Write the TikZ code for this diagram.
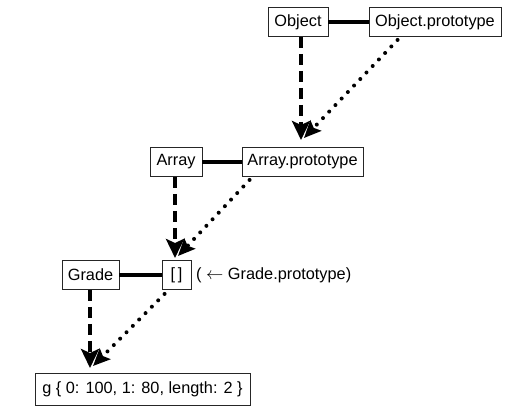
\documentclass[tikz,border=0pt]{standalone}
\usepackage{fontspec}
\setmainfont{Liberation Sans}
\usetikzlibrary{arrows.meta}
\begin{document}
\begin{tikzpicture}[x=1pt,y=-1pt,
  lbl/.style={font=\fontsize{16.3}{19}\selectfont},
  box/.style={lbl, draw=black!85, line width=0.9pt, minimum height=29pt, inner sep=0pt},
  link/.style={line width=3.2pt},
  inherit/.style={line width=3.8pt, dash pattern=on 11pt off 6pt,
    -{Stealth[length=19pt,width=18pt,inset=4pt]}},
  protolink/.style={line width=4pt, line cap=round, dash pattern=on 0pt off 9pt,
    -{Stealth[length=17pt,width=15pt,inset=3pt,line cap=butt]}}]
\useasboundingbox (0,0) rectangle (526,417);

% constructors and their prototypes
\node[box, minimum width=60pt]  (obj)   at (298,22)    {Object};
\node[box, minimum width=132pt] (objp)  at (435,22)    {Object.prototype};
\node[box, minimum width=52pt]  (arr)   at (176,162)   {Array};
\node[box, minimum width=121pt] (arrp)  at (302.5,162) {Array.prototype};
\node[box, minimum width=57pt]  (grade) at (90.5,275)  {Grade};
\node[box, minimum width=29pt]  (proto) at (176.5,275) {[\,]};
\node[lbl, anchor=west, inner sep=0pt] (note) at (196,275) {( $\leftarrow$ Grade.prototype)};
\node[box, minimum width=215pt, minimum height=32pt] (g) at (142.5,389)
  {g \{ 0: 100, 1: 80, length: 2 \}};

% constructor -- prototype links
\draw[link] (obj) -- (objp);
\draw[link] (arr) -- (arrp);
\draw[link] (grade) -- (proto);

% arrow tips
\coordinate (t1) at (301,140);
\coordinate (t2) at (175,258);
\coordinate (t3) at (90,368);

% inheritance arrows
\draw[inherit] (obj.south -| t1) -- (t1);
\draw[inherit] (arr.south -| t2) -- (t2);
\draw[inherit] (grade.south -| t3) -- (t3);

% prototype chain (dotted)
\draw[protolink] ([xshift=29pt,yshift=-3pt]objp.south west) -- ([xshift=3pt,yshift=2pt]t1);
\draw[protolink] ([xshift=8pt,yshift=-3pt]arrp.south west) -- ([xshift=3pt,yshift=2pt]t2);
\draw[protolink] ([xshift=3pt,yshift=-4pt]proto.south west) -- ([xshift=3pt,yshift=2pt]t3);
\end{tikzpicture}
\end{document}
